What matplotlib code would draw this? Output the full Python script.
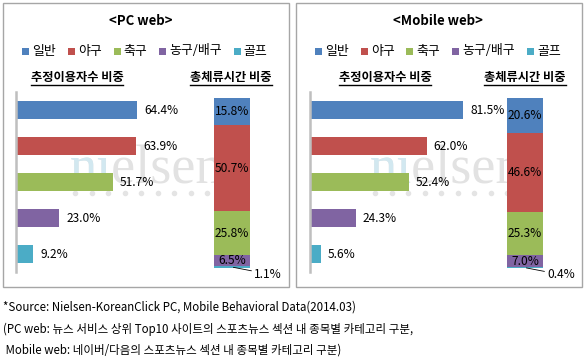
import numpy as np
import matplotlib.pyplot as plt
from matplotlib.patches import Rectangle
from matplotlib.lines import Line2D

plt.rcParams['font.family'] = ['Noto Sans CJK KR', 'DejaVu Sans']

# data
categories = ['일반', '야구', '축구', '농구/배구', '골프']
colors = ['#4F81BD', '#C0504D', '#9BBB59', '#8064A2', '#4BACC6']
pc_users = [64.4, 63.9, 51.7, 23.0, 9.2]
pc_time = [15.8, 50.7, 25.8, 6.5, 1.1]
mo_users = [81.5, 62.0, 52.4, 24.3, 5.6]
mo_time = [20.6, 46.6, 25.3, 7.0, 0.4]
titles = ['<PC web>', '<Mobile web>']
sub_users = '추정이용자수 비중'
sub_time = '총체류시간 비중'
notes = ['*Source: Nielsen-KoreanClick PC, Mobile Behavioral Data(2014.03)',
         '(PC web: 뉴스 서비스 상위 Top10 사이트의 스포츠뉴스 섹션 내 종목별 카테고리 구분,',
         ' Mobile web: 네이버/다음의 스포츠뉴스 섹션 내 종목별 카테고리 구분)']

W, H = 586, 362
fig = plt.figure(figsize=(W / 100, H / 100), dpi=100)
renderer = fig.canvas.get_renderer()


def rect(x, y, w, h):
    return [x / W, 1 - (y + h) / H, w / W, h / H]


def fx(x):
    return x / W


def fy(y):
    return 1 - y / H


# panel layout in pixels: (left, title x, users subtitle x, time subtitle x, hbar x, stack x, watermark x)
layout = [(3, 141, 77, 231, 16, 214, 70),
          (296, 438, 385, 525, 310, 507, 370)]
data = [(pc_users, pc_time), (mo_users, mo_time)]

subtitle_texts = []
for (x0, tx, sx1, sx2, hx, stx, wx), (users, times), title in zip(layout, data, titles):
    fig.add_artist(Rectangle((fx(x0), fy(287)), 286 / W, 284 / H, transform=fig.transFigure,
                             fill=False, edgecolor='#A6A6A6', lw=1))
    fig.text(fx(tx), fy(21), title, ha='center', va='center', fontsize=9.5, weight='bold')

    # legend
    lx = x0 + 19
    for cat, c in zip(categories, colors):
        fig.add_artist(Rectangle((fx(lx), fy(55)), 7 / W, 7 / H, transform=fig.transFigure,
                                 facecolor=c, edgecolor='none'))
        t = fig.text(fx(lx + 10), fy(51), cat, ha='left', va='center', fontsize=9.3)
        bb = t.get_window_extent(renderer)
        lx = bb.x1 + 12

    subtitle_texts.append(fig.text(fx(sx1), fy(78), sub_users, ha='center', va='center',
                                   fontsize=8.8, weight='bold'))
    subtitle_texts.append(fig.text(fx(sx2), fy(78), sub_time, ha='center', va='center',
                                   fontsize=8.8, weight='bold'))

    # watermark
    fig.text(fx(wx), fy(183), 'nielsen', family='Liberation Serif', fontsize=39,
             color='#E2E2E2', ha='left', va='baseline', zorder=-2)
    fig.text(fx(wx), fy(183), 'ni', family='Liberation Serif', fontsize=39,
             color='#D2E8F0', ha='left', va='baseline', zorder=-1)
    dots_x = np.arange(9) * 16.5 + wx + 5
    fig.add_artist(Line2D(fx(dots_x), np.full(9, fy(193)), transform=fig.transFigure,
                          ls='none', marker='o', ms=4, color='#E4E4E4', mec='none', zorder=-2))

    # horizontal bars
    ax = fig.add_axes(rect(hx, 92, 188, 180))
    ax.set_facecolor('none')
    y = np.arange(len(categories))
    ax.barh(y, users, height=0.48, color=colors)
    for yi, v in zip(y, users):
        ax.annotate(f'{v:.1f}%', (v, yi), xytext=(5, 0), textcoords='offset points',
                    ha='left', va='center', fontsize=8.6)
    ax.set_xlim(0, 100)
    ax.set_ylim(len(categories) - 0.5, -0.5)
    for s in ['top', 'right', 'bottom']:
        ax.spines[s].set_visible(False)
    ax.spines['left'].set_color('#BFBFBF')
    ax.spines['left'].set_linewidth(1.8)
    ax.set_xticks([])
    ax.set_yticks([])

    # stacked bar
    ax2 = fig.add_axes(rect(stx, 98, 36, 170))
    ax2.set_facecolor('none')
    ax2.axis('off')
    bottom = 0.0
    n = len(times)
    for i in range(n - 1, -1, -1):
        v = times[i]
        ax2.bar(0, v, width=1, bottom=bottom, color=colors[i])
        if i == n - 1:
            ax2.annotate(f'{v:.1f}%', (0, bottom + v / 2), xytext=(16, -5),
                         textcoords='offset points', ha='left', va='center', fontsize=8.6,
                         arrowprops=dict(arrowstyle='-', color='black', lw=0.6,
                                         shrinkA=0, shrinkB=1), annotation_clip=False)
        else:
            ax2.text(0, bottom + v / 2, f'{v:.1f}%', ha='center', va='center', fontsize=8.6)
        bottom += v
    ax2.set_xlim(-0.5, 0.5)
    ax2.set_ylim(0, 100)

# underline subtitles
for t in subtitle_texts:
    bb = t.get_window_extent(renderer)
    yl = bb.y0 - 0.5
    fig.add_artist(Line2D([bb.x0 / W, bb.x1 / W], [yl / H, yl / H], transform=fig.transFigure,
                          color='black', lw=1))

# footnotes
for line, yy in zip(notes, [307, 329, 350]):
    fig.text(fx(3), fy(yy), line, ha='left', va='center', fontsize=8.3)

fig.savefig('out.png', dpi=100, facecolor='white')
